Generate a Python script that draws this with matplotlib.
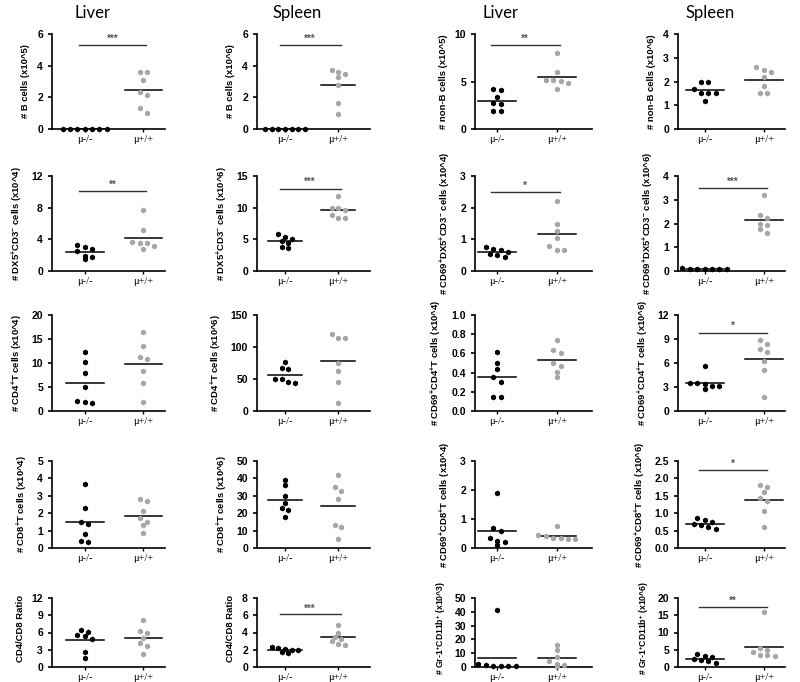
import matplotlib

matplotlib.use("Agg")
import matplotlib.pyplot as plt
import numpy as np

plt.rcParams["font.family"] = ["Liberation Sans", "DejaVu Sans"]
plt.rcParams["mathtext.default"] = "regular"

# ---- data, KO = mu-/-, WT = mu+/+ ----
group_labels = ["\u03bc-/-", "\u03bc+/+"]
col_titles = ["Liver", "Spleen", "Liver", "Spleen"]

b_liver_ko = [0, 0, 0, 0, 0, 0, 0]
b_liver_wt = [3.6, 3.6, 3.1, 2.35, 2.15, 1.3, 1.0]
b_spleen_ko = [0, 0, 0, 0, 0, 0, 0]
b_spleen_wt = [3.7, 3.6, 3.45, 3.3, 2.8, 1.65, 0.95]
nonb_liver_ko = [4.2, 4.1, 3.4, 2.7, 2.6, 1.9, 1.9]
nonb_liver_wt = [8.0, 6.0, 5.2, 5.2, 5.1, 4.8, 4.2]
nonb_spleen_ko = [2.0, 2.0, 1.7, 1.5, 1.5, 1.5, 1.2]
nonb_spleen_wt = [2.6, 2.5, 2.4, 2.2, 1.8, 1.5, 1.5]

dx5_liver_ko = [3.3, 3.0, 2.8, 2.5, 1.9, 1.8, 1.5]
dx5_liver_wt = [7.7, 5.2, 3.7, 3.6, 3.5, 3.1, 2.8]
dx5_spleen_ko = [5.8, 5.3, 5.1, 4.8, 4.4, 3.8, 3.7]
dx5_spleen_wt = [11.8, 10.0, 9.9, 9.7, 8.8, 8.4, 8.3]
cd69dx5_liver_ko = [0.75, 0.7, 0.65, 0.6, 0.55, 0.5, 0.45]
cd69dx5_liver_wt = [2.2, 1.5, 1.25, 1.05, 0.8, 0.65, 0.65]
cd69dx5_spleen_ko = [0.12, 0.1, 0.1, 0.1, 0.09, 0.08, 0.1]
cd69dx5_spleen_wt = [3.2, 2.35, 2.25, 2.0, 1.95, 1.75, 1.6]

cd4_liver_ko = [12.3, 10.2, 8.0, 5.0, 2.0, 1.8, 1.6]
cd4_liver_wt = [16.4, 13.6, 11.3, 10.8, 8.4, 5.8, 1.8]
cd4_spleen_ko = [76, 67, 65, 50, 50, 45, 44]
cd4_spleen_wt = [120, 114, 114, 75, 63, 46, 12]
cd69cd4_liver_ko = [0.61, 0.5, 0.44, 0.35, 0.3, 0.15, 0.15]
cd69cd4_liver_wt = [0.74, 0.64, 0.6, 0.5, 0.47, 0.41, 0.35]
cd69cd4_spleen_ko = [5.6, 3.5, 3.5, 3.4, 3.1, 3.1, 2.7]
cd69cd4_spleen_wt = [8.9, 8.4, 7.8, 7.4, 6.3, 5.1, 1.8]

cd8_liver_ko = [3.65, 2.3, 1.5, 1.4, 0.8, 0.4, 0.35]
cd8_liver_wt = [2.8, 2.7, 2.1, 1.75, 1.5, 1.3, 0.85]
cd8_spleen_ko = [39, 36, 30, 26, 23, 22, 18]
cd8_spleen_wt = [42, 35, 33, 28, 13, 12, 5]
cd69cd8_liver_ko = [1.9, 0.7, 0.6, 0.35, 0.25, 0.2, 0.1]
cd69cd8_liver_wt = [0.75, 0.45, 0.4, 0.35, 0.35, 0.3, 0.3]
cd69cd8_spleen_ko = [0.85, 0.8, 0.75, 0.7, 0.65, 0.6, 0.55]
cd69cd8_spleen_wt = [1.8, 1.75, 1.6, 1.45, 1.35, 1.05, 0.6]

ratio_liver_ko = [6.5, 6.1, 5.5, 5.4, 4.8, 2.6, 1.5]
ratio_liver_wt = [8.1, 6.3, 6.0, 5.0, 4.1, 3.6, 2.3]
ratio_spleen_ko = [2.3, 2.2, 2.1, 2.0, 2.0, 1.7, 1.6]
ratio_spleen_wt = [4.9, 4.0, 3.5, 3.3, 3.0, 2.7, 2.6]
gr1_liver_ko = [41, 2, 1.5, 1, 1, 0.5, 0.5]
gr1_liver_wt = [16, 12, 7, 4, 2, 1.5, 1]
gr1_spleen_ko = [3.8, 3.2, 2.8, 2.3, 2.0, 1.7, 1.3]
gr1_spleen_wt = [16, 5.5, 5.0, 4.3, 3.5, 3.5, 3.3]

ylabels = [
    ["# B cells (x10^5)", "# B cells (x10^6)",
     "# non-B cells (x10^5)", "# non-B cells (x10^6)"],
    ["# DX5$^{+}$CD3$^{-}$ cells (x10^4)", "# DX5$^{+}$CD3$^{-}$ cells (x10^6)",
     "# CD69$^{+}$DX5$^{+}$CD3$^{-}$ cells (x10^4)",
     "# CD69$^{+}$DX5$^{+}$CD3$^{-}$ cells (x10^6)"],
    ["# CD4$^{+}$T cells (x10^4)", "# CD4$^{+}$T cells (x10^6)",
     "# CD69$^{+}$CD4$^{+}$T cells (x10^4)", "# CD69$^{+}$CD4$^{+}$T cells (x10^6)"],
    ["# CD8$^{+}$T cells (x10^4)", "# CD8$^{+}$T cells (x10^6)",
     "# CD69$^{+}$CD8$^{+}$T cells (x10^4)", "# CD69$^{+}$CD8$^{+}$T cells (x10^6)"],
    ["CD4/CD8 Ratio", "CD4/CD8 Ratio",
     "# Gr-1$^{+}$CD11b$^{+}$ (x10^3)", "# Gr-1$^{+}$CD11b$^{+}$ (x10^6)"],
]

yticks = [
    [[0, 2, 4, 6], [0, 2, 4, 6], [0, 5, 10], [0, 1, 2, 3, 4]],
    [[0, 4, 8, 12], [0, 5, 10, 15], [0, 1, 2, 3], [0, 1, 2, 3, 4]],
    [[0, 5, 10, 15, 20], [0, 50, 100, 150], [0.0, 0.2, 0.4, 0.6, 0.8, 1.0], [0, 3, 6, 9, 12]],
    [[0, 1, 2, 3, 4, 5], [0, 10, 20, 30, 40, 50], [0, 1, 2, 3], [0.0, 0.5, 1.0, 1.5, 2.0, 2.5]],
    [[0, 3, 6, 9, 12], [0, 2, 4, 6, 8], [0, 10, 20, 30, 40, 50], [0, 5, 10, 15, 20]],
]

# significance: (stars, bar height), None when not significant
signif = [
    [("***", 5.3), ("***", 5.3), ("**", 8.8), None],
    [("**", 10.1), ("***", 13.0), ("*", 2.5), ("***", 3.5)],
    [None, None, None, ("*", 9.8)],
    [None, None, None, ("*", 2.25)],
    [None, ("***", 6.1), None, ("**", 17.5)],
]

panels = [
    [(b_liver_ko, b_liver_wt), (b_spleen_ko, b_spleen_wt),
     (nonb_liver_ko, nonb_liver_wt), (nonb_spleen_ko, nonb_spleen_wt)],
    [(dx5_liver_ko, dx5_liver_wt), (dx5_spleen_ko, dx5_spleen_wt),
     (cd69dx5_liver_ko, cd69dx5_liver_wt), (cd69dx5_spleen_ko, cd69dx5_spleen_wt)],
    [(cd4_liver_ko, cd4_liver_wt), (cd4_spleen_ko, cd4_spleen_wt),
     (cd69cd4_liver_ko, cd69cd4_liver_wt), (cd69cd4_spleen_ko, cd69cd4_spleen_wt)],
    [(cd8_liver_ko, cd8_liver_wt), (cd8_spleen_ko, cd8_spleen_wt),
     (cd69cd8_liver_ko, cd69cd8_liver_wt), (cd69cd8_spleen_ko, cd69cd8_spleen_wt)],
    [(ratio_liver_ko, ratio_liver_wt), (ratio_spleen_ko, ratio_spleen_wt),
     (gr1_liver_ko, gr1_liver_wt), (gr1_spleen_ko, gr1_spleen_wt)],
]


def swarm_offsets(values, span, step=0.125):
    # GraphPad-like scatter: points closer than a marker get spread in a centred row
    values = np.asarray(values, dtype=float)
    order = np.argsort(-values)
    tol = 0.06 * span
    offsets = np.zeros(len(values))
    clusters = []
    for i in order:
        if clusters and abs(values[clusters[-1][0]] - values[i]) < tol:
            clusters[-1].append(i)
        else:
            clusters.append([i])
    for cl in clusters:
        n = len(cl)
        for k, i in enumerate(cl):
            offsets[i] = (k - (n - 1) / 2.0) * step
    return offsets


fig = plt.figure(figsize=(8, 6.82), dpi=100)
W, H = 800.0, 682.0
col_left = [52, 257, 475, 678]
col_width = [113, 113, 117, 107]
col_xlim = [(0.44, 2.37), (0.47, 2.6), (0.63, 2.59), (0.55, 2.36)]
title_x = [93, 297, 500, 710]
row_top = [34, 176, 315, 461, 598]
row_bottom = [129, 271, 411, 548, 667]
colors = ["black", "#a6a6a6"]

for r in range(5):
    for c in range(4):
        ax = fig.add_axes([col_left[c] / W, 1 - row_bottom[r] / H,
                           col_width[c] / W, (row_bottom[r] - row_top[r]) / H])
        ticks = yticks[r][c]
        span = ticks[-1] - ticks[0]
        for g, vals in enumerate(panels[r][c]):
            xpos = g + 1
            offs = swarm_offsets(vals, span)
            ax.scatter(xpos + offs, vals, s=18, color=colors[g], marker="h",
                       zorder=3, linewidths=0, clip_on=False)
            ax.plot([xpos - 0.32, xpos + 0.32], [np.mean(vals)] * 2,
                    color="black", lw=1.1, zorder=2)
        if signif[r][c] is not None:
            stars, h = signif[r][c]
            ax.plot([0.9, 2.05], [h, h], color="#333333", lw=1.0)
            ax.text(1.47, h + 0.015 * span, stars, ha="center", va="bottom",
                    fontsize=7, color="#555555", fontweight="bold")
        ax.set_xlim(*col_xlim[c])
        ax.set_ylim(ticks[0], ticks[-1])
        ax.set_yticks(ticks)
        if any(isinstance(t, float) for t in ticks):
            ax.set_yticklabels([f"{t:.1f}" for t in ticks])
        ax.set_xticks([1, 2])
        ax.set_xticklabels(group_labels, family="Liberation Serif", fontsize=7.5)
        ax.spines["top"].set_visible(False)
        ax.spines["right"].set_visible(False)
        ax.spines["left"].set_linewidth(1.2)
        ax.spines["bottom"].set_linewidth(1.2)
        ax.tick_params(axis="y", labelsize=7.5, width=1.2, length=3)
        ax.tick_params(axis="x", width=1.0, length=2.5, pad=2)
        for lab in ax.get_yticklabels():
            lab.set_fontweight("bold")
        label_size = 6.2 if r == 4 and c >= 2 else 6.8
        ax.set_ylabel(ylabels[r][c], fontsize=label_size, fontweight="bold", labelpad=5)
        if r == 4:
            ax.yaxis.label.set_y(0.56)

for c in range(4):
    fig.text(title_x[c] / W, 1 - 13 / H, col_titles[c], ha="center", va="center",
             fontsize=12, family="Lato")

fig.savefig("out.png", dpi=100)
